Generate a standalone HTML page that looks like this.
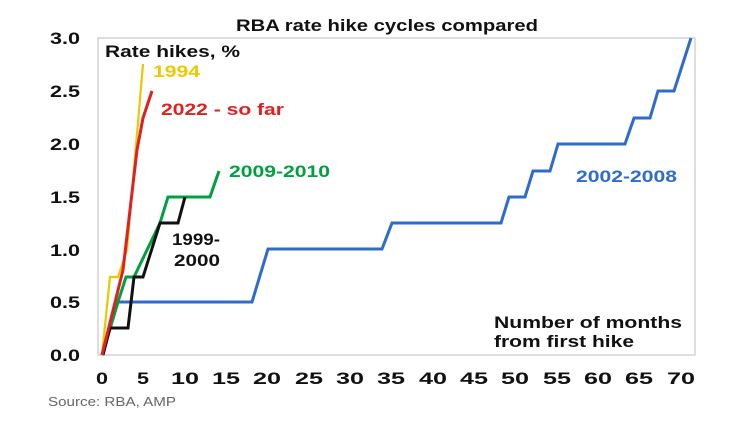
<!DOCTYPE html>
<html><head><meta charset="utf-8"><style>
body{margin:0;background:#fff;}
svg{display:block;font-family:"Liberation Sans",Arial,sans-serif;font-weight:bold;}
</style></head><body>
<svg width="744" height="430" viewBox="0 0 744 430" xmlns="http://www.w3.org/2000/svg">
<rect x="0" y="0" width="744" height="430" fill="#fff"/>
<text x="236" y="31" font-size="17" textLength="302" lengthAdjust="spacingAndGlyphs" fill="#111">RBA rate hike cycles compared</text>
<rect x="98" y="38" width="597" height="317" fill="none" stroke="#c8c8c8" stroke-width="1.2"/>
<g font-size="17" fill="#111">
<text x="50" y="44" textLength="30" lengthAdjust="spacingAndGlyphs">3.0</text>
<text x="50" y="97" textLength="30" lengthAdjust="spacingAndGlyphs">2.5</text>
<text x="50" y="150" textLength="30" lengthAdjust="spacingAndGlyphs">2.0</text>
<text x="50" y="203" textLength="30" lengthAdjust="spacingAndGlyphs">1.5</text>
<text x="50" y="256" textLength="30" lengthAdjust="spacingAndGlyphs">1.0</text>
<text x="50" y="308" textLength="30" lengthAdjust="spacingAndGlyphs">0.5</text>
<text x="50" y="361" textLength="30" lengthAdjust="spacingAndGlyphs">0.0</text>
</g>
<g font-size="17" fill="#111">
<text x="96" y="384" textLength="12" lengthAdjust="spacingAndGlyphs">0</text>
<text x="137" y="384" textLength="12" lengthAdjust="spacingAndGlyphs">5</text>
<text x="171" y="384" textLength="28" lengthAdjust="spacingAndGlyphs">10</text>
<text x="212" y="384" textLength="28" lengthAdjust="spacingAndGlyphs">15</text>
<text x="253" y="384" textLength="28" lengthAdjust="spacingAndGlyphs">20</text>
<text x="295" y="384" textLength="28" lengthAdjust="spacingAndGlyphs">25</text>
<text x="336" y="384" textLength="28" lengthAdjust="spacingAndGlyphs">30</text>
<text x="377" y="384" textLength="28" lengthAdjust="spacingAndGlyphs">35</text>
<text x="419" y="384" textLength="28" lengthAdjust="spacingAndGlyphs">40</text>
<text x="460" y="384" textLength="28" lengthAdjust="spacingAndGlyphs">45</text>
<text x="501" y="384" textLength="28" lengthAdjust="spacingAndGlyphs">50</text>
<text x="543" y="384" textLength="28" lengthAdjust="spacingAndGlyphs">55</text>
<text x="584" y="384" textLength="28" lengthAdjust="spacingAndGlyphs">60</text>
<text x="625" y="384" textLength="28" lengthAdjust="spacingAndGlyphs">65</text>
<text x="667" y="384" textLength="28" lengthAdjust="spacingAndGlyphs">70</text>
</g>
<text x="48" y="406" font-size="13" font-weight="normal" fill="#666" textLength="128" lengthAdjust="spacingAndGlyphs">Source: RBA, AMP</text>
<g fill="none" stroke-width="3" stroke-linejoin="miter">
<polyline stroke="#2f6bc8" points="102,355 118,302 252,302 268,249 382,249 392,223 501,223 509,197 525,197 533,171 550,171 558,144 625,144 634,118 650,118 658,91 674,91 691,38"/>
<polyline stroke="#00a040" points="102,355 118,302 126,277 134,277 160,223 168,197 210,197 219,171"/>
<polyline stroke="#111" points="103,355 110,328 128,328 134,277 143,277 160,223 178,223 185,197"/>
<polyline stroke="#e8c800" stroke-width="2.2" points="102,355 110,277 118,277 127,250 143,64"/>
<polyline stroke="#e02020" points="102,355 123,270 137,150 143,118 152,91"/>
</g>
<g font-size="17">
<text x="105" y="57" fill="#111" textLength="135" lengthAdjust="spacingAndGlyphs">Rate hikes, %</text>
<text x="153" y="77" fill="#f0c800" textLength="47" lengthAdjust="spacingAndGlyphs">1994</text>
<text x="161" y="115" fill="#e02020" textLength="123" lengthAdjust="spacingAndGlyphs">2022 - so far</text>
<text x="229" y="177" fill="#00a040" textLength="101" lengthAdjust="spacingAndGlyphs">2009-2010</text>
<text x="172" y="245" fill="#111" textLength="48" lengthAdjust="spacingAndGlyphs">1999-</text>
<text x="174" y="266" fill="#111" textLength="46" lengthAdjust="spacingAndGlyphs">2000</text>
<text x="576" y="182" fill="#2f6bc8" textLength="101" lengthAdjust="spacingAndGlyphs">2002-2008</text>
<text x="494" y="328" fill="#111" textLength="188" lengthAdjust="spacingAndGlyphs">Number of months</text>
<text x="494" y="347" fill="#111" textLength="140" lengthAdjust="spacingAndGlyphs">from first hike</text>
</g>
</svg>
</body></html>
